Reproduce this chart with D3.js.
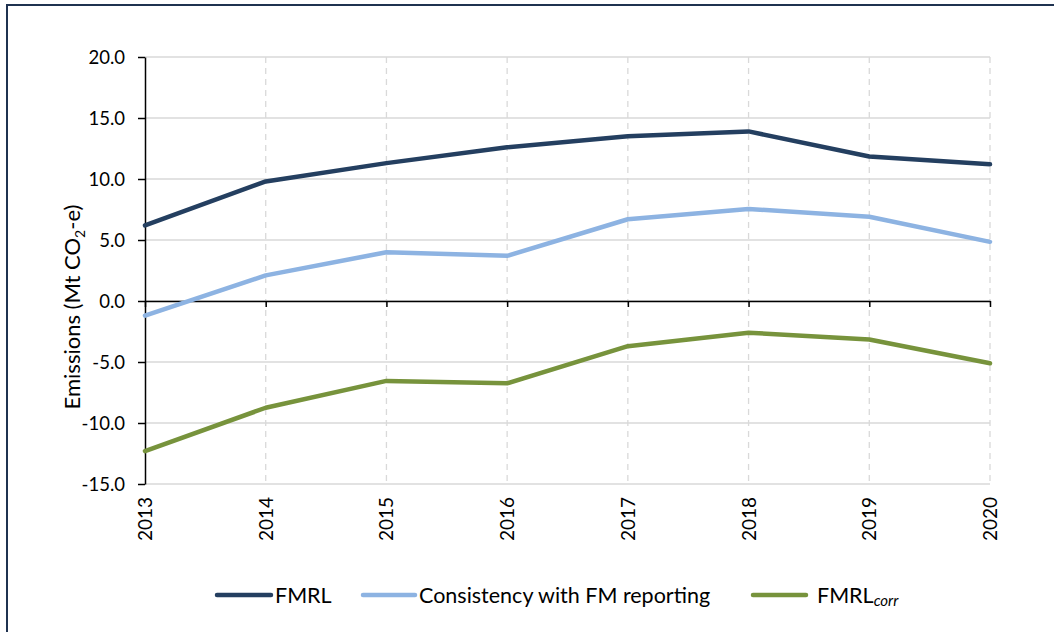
<!DOCTYPE html>
<html>
<head>
<meta charset="utf-8">
<script src="https://cdn.jsdelivr.net/npm/d3@7"></script>
<style>
  html, body { margin: 0; padding: 0; background: #fff; }
  svg { display: block; }
  text { font-family: Lato, "Open Sans", sans-serif; fill: #000; }
</style>
</head>
<body>
<svg id="chart" width="1054" height="632"></svg>
<script>
const years = [2013, 2014, 2015, 2016, 2017, 2018, 2019, 2020];
const fmrl = [6.2, 9.8, 11.3, 12.6, 13.5, 13.9, 11.85, 11.2];
const consistency = [-1.2, 2.1, 4.0, 3.7, 6.7, 7.55, 6.9, 4.85];
const fmrlCorr = [-12.3, -8.75, -6.55, -6.75, -3.7, -2.6, -3.15, -5.1];
const yTicks = [-15, -10, -5, 0, 5, 10, 15, 20];
const seriesNames = ["FMRL", "Consistency with FM reporting", "FMRL"];
const colors = ["#243f60", "#8db3e2", "#77933c"];

const svg = d3.select("#chart");
const W = 1054, H = 632;

// outer border (only top/left visible in frame)
svg.append("rect").attr("x", 7).attr("y", 5).attr("width", W + 10).attr("height", H + 10)
  .attr("fill", "none").attr("stroke", "#1f3250").attr("stroke-width", 2);

const pLeft = 145, pRight = 990, pTop = 57, pBottom = 484;
const x = d3.scalePoint().domain(years).range([pLeft, pRight]);
const y = d3.scaleLinear().domain([-15, 20]).range([pBottom, pTop]);

// horizontal gridlines
svg.append("g").selectAll("line").data(yTicks).join("line")
  .attr("x1", pLeft).attr("x2", pRight)
  .attr("y1", d => y(d)).attr("y2", d => y(d))
  .attr("stroke", "#d9d9d9").attr("stroke-width", 1.3);

// vertical dashed gridlines
svg.append("g").selectAll("line").data(years.slice(1)).join("line")
  .attr("x1", d => x(d)).attr("x2", d => x(d))
  .attr("y1", pTop).attr("y2", pBottom)
  .attr("stroke", "#d9d9d9").attr("stroke-width", 1.3).attr("stroke-dasharray", "6,5");

// y axis
const yAxis = d3.axisLeft(y).tickValues(yTicks).tickSize(7).tickSizeOuter(0);
const gy = svg.append("g").attr("transform", `translate(${pLeft},0)`).call(yAxis);
gy.select(".domain").attr("stroke", "#000").attr("stroke-width", 1.5);
gy.selectAll(".tick line").attr("stroke", "#000").attr("stroke-width", 1.5);
gy.selectAll(".tick text").attr("font-size", 18.5).attr("x", -20).attr("dy", "0.34em")
  .style("font-family", "Lato, sans-serif").attr("fill", "#000")
  .text(d => d < 0 ? "-" + d3.format(".1f")(-d) : d3.format(".1f")(d));

// x axis at zero
const xAxis = d3.axisBottom(x).tickSize(6).tickSizeOuter(0);
const gx = svg.append("g").attr("transform", `translate(0,${y(0)})`).call(xAxis);
gx.select(".domain").attr("stroke", "#000").attr("stroke-width", 1.5);
gx.selectAll(".tick line").attr("stroke", "#000").attr("stroke-width", 1.5);
gx.selectAll(".tick text").remove();

// year labels at bottom, rotated
svg.append("g").selectAll("text").data(years).join("text")
  .attr("transform", d => `translate(${x(d) + 7},${pBottom + 13}) rotate(-90)`)
  .attr("text-anchor", "end").attr("font-size", 19)
  .text(d => d);

// y label
const yl = svg.append("text")
  .attr("transform", `translate(80,307) rotate(-90)`)
  .attr("text-anchor", "middle").attr("font-size", 22);
yl.append("tspan").text("Emissions (Mt CO");
yl.append("tspan").attr("font-size", 14).attr("dy", 5).text("2");
yl.append("tspan").attr("dy", -5).text("-e)");

// lines
const data = [fmrl, consistency, fmrlCorr];
const line = d3.line().x((d, i) => x(years[i])).y(d => y(d));
data.forEach((s, k) => {
  svg.append("path").datum(s).attr("d", line)
    .attr("fill", "none").attr("stroke", colors[k]).attr("stroke-width", 4.5)
    .attr("stroke-linejoin", "round").attr("stroke-linecap", "round");
});

// legend
const legendY = 595;
const legendItems = [
  { x1: 217, x2: 271, tx: 275 },
  { x1: 363, x2: 415, tx: 419 },
  { x1: 753, x2: 806, tx: 817 }
];
legendItems.forEach((it, k) => {
  svg.append("line").attr("x1", it.x1).attr("x2", it.x2).attr("y1", legendY).attr("y2", legendY)
    .attr("stroke", colors[k]).attr("stroke-width", 4.5).attr("stroke-linecap", "round");
  const t = svg.append("text").attr("x", it.tx).attr("y", legendY + 8).attr("font-size", 21.5);
  t.append("tspan").text(seriesNames[k]);
  if (k === 2) {
    t.append("tspan").attr("font-size", 15).attr("font-style", "italic").attr("dy", 3).text("corr");
  }
});
</script>
</body>
</html>
